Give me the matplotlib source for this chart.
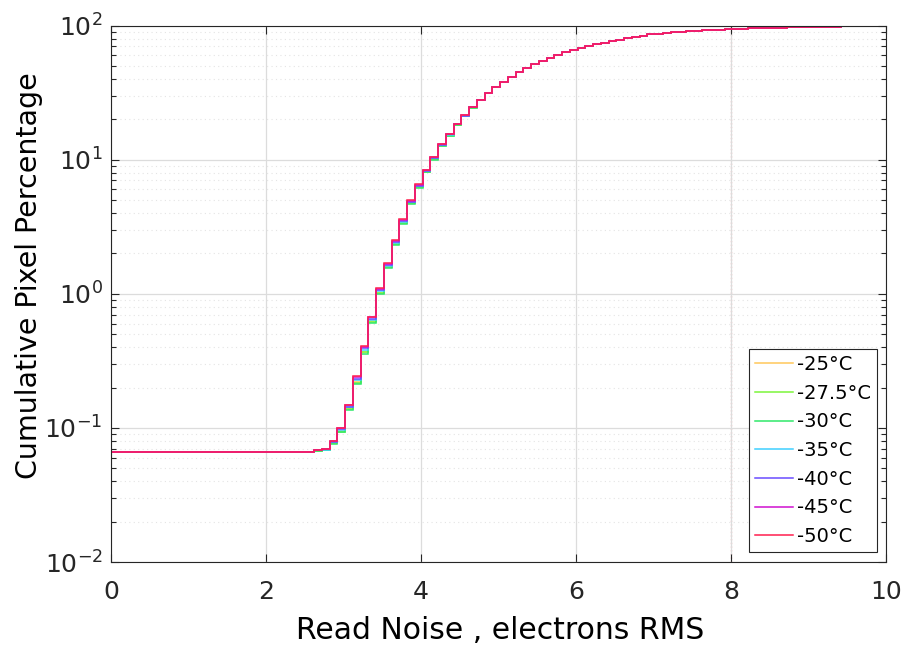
import numpy as np
import matplotlib
matplotlib.use('Agg')
import matplotlib.pyplot as plt
from matplotlib.ticker import LogLocator, NullFormatter

plt.rcParams['font.family'] = ['DejaVu Sans']
plt.rcParams['mathtext.fontset'] = 'dejavusans'

# cumulative pixel percentage, step histogram, bin width 0.1 e- RMS
temps = ['-25°C', '-27.5°C', '-30°C', '-35°C', '-40°C', '-45°C', '-50°C']
colors = ['#ffc85a', '#7cf53a', '#2fe86a', '#3fcfff', '#6a4cff', '#d010d0', '#ff1e4e']

flat_level = 0.066   # from 0 up to the first bin
rise_start = 2.62

# rising part, one list per temperature (bins 2.62 .. 4.72)
rise_25 = [0.067, 0.069, 0.077, 0.095, 0.139, 0.221, 0.370, 0.625, 1.02, 1.59, 2.36,
           3.39, 4.74, 6.24, 8.13, 10.1, 12.8, 15.2, 18.2, 21.1, 24.5, 27.7]
rise_275 = [0.067, 0.069, 0.077, 0.094, 0.138, 0.218, 0.365, 0.619, 1.01, 1.57, 2.34,
            3.36, 4.71, 6.20, 8.09, 10.1, 12.7, 15.1, 18.1, 21.1, 24.4, 27.7]
rise_30 = [0.067, 0.068, 0.076, 0.093, 0.136, 0.213, 0.357, 0.610, 1.00, 1.55, 2.31,
           3.32, 4.66, 6.13, 8.03, 10.0, 12.7, 15.1, 18.1, 21.0, 24.4, 27.6]
rise_35 = [0.068, 0.069, 0.078, 0.097, 0.142, 0.229, 0.383, 0.642, 1.05, 1.62, 2.41,
           3.45, 4.82, 6.35, 8.23, 10.3, 12.9, 15.3, 18.3, 21.3, 24.6, 27.8]
rise_40 = [0.068, 0.070, 0.079, 0.098, 0.144, 0.233, 0.391, 0.652, 1.06, 1.65, 2.45,
           3.50, 4.87, 6.41, 8.29, 10.3, 12.9, 15.4, 18.4, 21.3, 24.7, 27.9]
rise_45 = [0.068, 0.070, 0.080, 0.099, 0.147, 0.240, 0.401, 0.666, 1.08, 1.68, 2.49,
           3.56, 4.94, 6.50, 8.38, 10.4, 13.0, 15.5, 18.4, 21.4, 24.7, 28.0]
rise_50 = [0.068, 0.070, 0.080, 0.100, 0.149, 0.245, 0.410, 0.676, 1.10, 1.70, 2.52,
           3.60, 4.99, 6.57, 8.44, 10.5, 13.1, 15.6, 18.5, 21.5, 24.8, 28.0]

# upper part, all temperatures overlap (bins 4.82 .. 9.92)
tail = [31.5, 34.7, 38.2, 41.4, 45.1, 48.3, 51.7, 54.1, 57.0, 60.4, 63.1, 65.3, 67.6,
        70.0, 72.4, 74.6, 76.8, 78.6, 80.4, 82.3, 84.2, 85.7, 86.9, 88.0, 89.0, 89.9,
        90.7, 91.4, 92.1, 92.7, 93.3, 93.8, 94.3, 94.8, 95.2, 95.6, 96.0, 96.3, 96.6,
        96.9, 97.2, 97.5, 97.7, 97.9, 98.1, 98.3, 98.5, 98.7, 98.9, 99.0, 99.2, 99.3]

rises = [rise_25, rise_275, rise_30, rise_35, rise_40, rise_45, rise_50]

nbins = len(rise_50) + len(tail)
edges = np.concatenate([[0.0], np.round(rise_start + 0.1 * np.arange(nbins + 1), 2)])

fig = plt.figure(figsize=(9.06, 6.49), dpi=100)
ax = fig.add_axes([0.1225, 0.134, 0.8555, 0.8267])

for lab, col, rise in zip(temps, colors, rises):
    vals = [flat_level] + rise + tail
    ax.stairs(vals, edges, baseline=None, color=col, lw=1.1, label=lab)

ax.axvline(8, color='#f2a0a0', ls=':', lw=1.0, zorder=0.5)

ax.set_yscale('log')
ax.set_xlim(0, 10)
ax.set_ylim(1e-2, 1e2)
ax.set_xticks([0, 2, 4, 6, 8, 10])
ax.yaxis.set_major_locator(LogLocator(base=10, numticks=10))
ax.yaxis.set_minor_locator(LogLocator(base=10, subs=np.arange(2, 10), numticks=10))
ax.yaxis.set_minor_formatter(NullFormatter())

ax.grid(True, which='major', color='#dcdcdc', lw=0.9)
ax.grid(True, which='minor', axis='y', color='#e4e4e4', lw=0.8, ls=(0, (1, 3)))
ax.set_axisbelow(True)

ax.tick_params(which='both', direction='in', top=True, right=True, colors='#262626',
               labelsize=18)
ax.tick_params(which='major', length=6, width=0.8)
ax.tick_params(which='minor', length=3.5, width=0.8)
ax.tick_params(axis='x', pad=13)
ax.tick_params(axis='y', pad=6)
for s in ax.spines.values():
    s.set_color('#262626')
    s.set_linewidth(0.8)

ax.set_xlabel('Read Noise , electrons RMS', fontsize=21.5)
ax.set_ylabel('Cumulative Pixel Percentage', fontsize=20.5)
ax.xaxis.set_label_coords(0.502, -0.1)
ax.yaxis.set_label_coords(-0.088, 0.533)

leg = ax.legend(loc='lower right', bbox_to_anchor=(0.988, 0.0186), borderaxespad=0,
                fontsize=14, handlelength=1.95, labelspacing=0.5, handletextpad=0.2,
                borderpad=0.3, fancybox=False, framealpha=1, edgecolor='#262626')
leg.get_frame().set_linewidth(0.8)

fig.savefig('out.png', dpi=100)
